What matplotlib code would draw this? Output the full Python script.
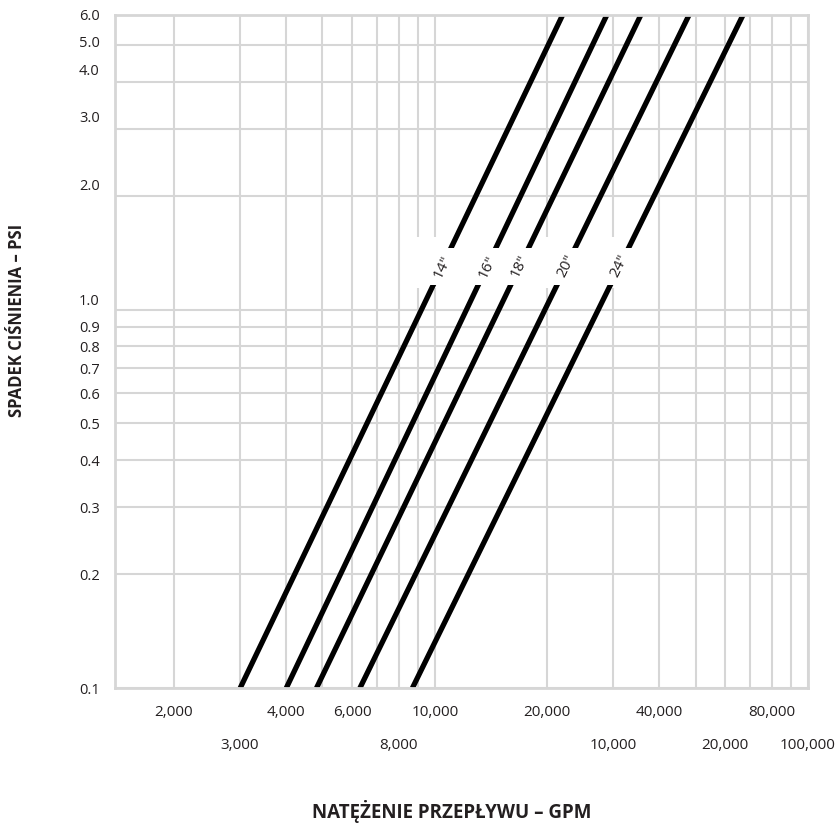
import numpy as np
import matplotlib
matplotlib.use('Agg')
import matplotlib.pyplot as plt
import matplotlib.transforms as mtransforms
from matplotlib.patches import Rectangle
from matplotlib.ticker import NullLocator

plt.rcParams['font.family'] = ['Open Sans', 'DejaVu Sans']

# rozmiary rur + natezenie przeplywu (GPM) na koncach linii
sizes = ['14"', '16"', '18"', '20"', '24"']
psi_ends = [0.1, 6.0]
gpm_low = [3010, 4000, 4820, 6300, 8710]       # przy 0.1 psi
gpm_high = [22000, 28900, 35650, 48000, 66970]  # przy 6.0 psi

# linie siatki
x_grid = [2000, 3000, 4000, 5000, 6000, 7000, 8000, 9000, 10000,
          20000, 30000, 40000, 50000, 60000, 70000, 80000, 90000, 100000]
y_grid = [0.1, 0.2, 0.3, 0.4, 0.5, 0.6, 0.7, 0.8, 0.9, 1.0,
          2.0, 3.0, 4.0, 5.0, 6.0]

# opisy osi X - dwa rzedy, tak jak w oryginale
x_ticks_top = [2000, 4000, 6000, 10000, 20000, 40000, 80000]
x_labels_top = ['2,000', '4,000', '6,000', '10,000', '20,000', '40,000', '80,000']
x_ticks_bottom = [3000, 8000, 30000, 60000, 100000]
x_labels_bottom = ['3,000', '8,000', '10,000', '20,000', '100,000']

y_ticks = y_grid
y_labels = ['%.1f' % v for v in y_ticks]

grid_col = '#d6d6d6'
txt_col = '#231f20'

fig = plt.figure(figsize=(8.38, 8.25), dpi=100)
ax = fig.add_axes([115 / 838, 1 - 688 / 825, (808 - 115) / 838, (688 - 15) / 825])
ax.set_xscale('log')
ax.set_yscale('log')
ax.set_xlim(1390, 100000)
ax.set_ylim(0.1, 6.0)

for x in x_grid:
    ax.axvline(x, color=grid_col, lw=1.5, zorder=0)
for y in y_grid:
    ax.axhline(y, color=grid_col, lw=1.5, zorder=0)

for sp in ax.spines.values():
    sp.set_color(grid_col)
    sp.set_linewidth(2)

# ticki
ax.set_xticks(x_ticks_top, x_labels_top)
ax.set_xticks(x_ticks_bottom, x_labels_bottom, minor=True)
ax.set_yticks(y_ticks, y_labels)
ax.yaxis.set_minor_locator(NullLocator())
ax.tick_params(axis='x', which='major', length=0, pad=12, labelsize=11, labelcolor=txt_col)
ax.tick_params(axis='x', which='minor', length=0, pad=36, labelsize=11, labelcolor=txt_col)
ax.tick_params(axis='y', length=0, pad=11, labelsize=10.5, labelcolor=txt_col)

# etykiety 1.0 - 5.0 lekko w gore (jak w oryginale)
nudge = {'1.0': 10, '2.0': 11, '3.0': 12, '4.0': 12, '5.0': 3}
for lab in ax.get_yticklabels():
    dy = nudge.get(lab.get_text(), 0)
    if dy:
        lab.set_transform(lab.get_transform() +
                          mtransforms.ScaledTranslation(0, dy / 100, fig.dpi_scale_trans))

# biały pas pod opisami rur
band_x = (8570, 36550)
ax.add_patch(Rectangle((band_x[0], 1.14), band_x[1] - band_x[0], 1.55 - 1.14,
                       facecolor='white', edgecolor='none', zorder=1))

for i in range(len(sizes)):
    ax.plot([gpm_low[i], gpm_high[i]], psi_ends, color='black', lw=3.8,
            solid_capstyle='butt', zorder=2)

ax.add_patch(Rectangle((band_x[0], 1.16), band_x[1] - band_x[0], 1.45 - 1.16,
                       facecolor='white', edgecolor='none', zorder=3))

# opisy rur, obrócone wzdłuż linii
y_lab = 1.3
for i, s in enumerate(sizes):
    lx = np.log10([gpm_low[i], gpm_high[i]])
    ly = np.log10(psi_ends)
    x_lab = 10 ** np.interp(np.log10(y_lab), ly, lx)
    p1 = ax.transData.transform((gpm_low[i], psi_ends[0]))
    p2 = ax.transData.transform((gpm_high[i], psi_ends[1]))
    ang = np.degrees(np.arctan2(p2[1] - p1[1], p2[0] - p1[0]))
    ax.text(x_lab, y_lab, s, rotation=ang, rotation_mode='anchor',
            ha='center', va='center', fontsize=11, color=txt_col, zorder=4)

fig.text(0.020, 0.612, 'SPADEK CIŚNIENIA – PSI', rotation=90, ha='center', va='center',
         fontsize=12, fontweight='bold', color=txt_col)
fig.text(0.539, 0.016, 'NATĘŻENIE PRZEPŁYWU – GPM', ha='center', va='center',
         fontsize=13.5, fontweight='bold', color=txt_col)

fig.savefig('out.png', dpi=100)
